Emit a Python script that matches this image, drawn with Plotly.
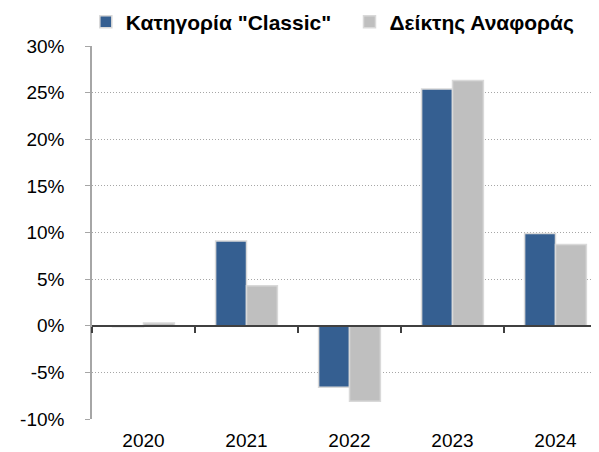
import plotly.graph_objects as go

years = ["2020", "2021", "2022", "2023", "2024"]
classic = [-0.1, 9.1, -6.6, 25.4, 9.9]
benchmark = [0.3, 4.3, -8.1, 26.3, 8.7]
series_names = ['Κατηγορία "Classic"', 'Δείκτης Αναφοράς']
y_ticks = [-10, -5, 0, 5, 10, 15, 20, 25, 30]
y_labels = [f"{v}%" for v in y_ticks]

FONT = "Liberation Sans, Arial, sans-serif"

fig = go.Figure()
fig.add_trace(go.Bar(x=years, y=classic, name=series_names[0], legend="legend",
                     marker=dict(color="#355F91", line=dict(color="#D9D9D9", width=1.5))))
fig.add_trace(go.Bar(x=years, y=benchmark, name=series_names[1], legend="legend2",
                     marker=dict(color="#BFBFBF", line=dict(color="#D9D9D9", width=1.5))))
# invisible helper trace for the zero-line axis with boundary ticks
fig.add_trace(go.Scatter(x=years, y=[0] * len(years), xaxis="x2", yaxis="y",
                         mode="markers", marker=dict(opacity=0), showlegend=False,
                         hoverinfo="skip"))

legend_font = dict(family=FONT, size=21, color="#000000", weight="bold")
fig.update_layout(
    width=599, height=452,
    margin=dict(l=84, r=0, t=38, b=41, autoexpand=False),
    paper_bgcolor="white", plot_bgcolor="white",
    barmode="group", bargap=0.4, bargroupgap=0.0,
    font=dict(family=FONT, size=19, color="#000000"),
    legend=dict(orientation="h", x=-0.012, xanchor="left", y=1.064, yanchor="middle",
                font=legend_font, itemwidth=30, bgcolor="rgba(0,0,0,0)"),
    legend2=dict(orientation="h", x=0.5, xanchor="left", y=1.064, yanchor="middle",
                 font=legend_font, itemwidth=30, bgcolor="rgba(0,0,0,0)"),
    xaxis=dict(type="category", categoryorder="array", categoryarray=years,
               showline=False, ticks="", showgrid=False, zeroline=False,
               ticklabelstandoff=8,
               tickfont=dict(size=19), range=[-0.5, 4.5], automargin=False),
    xaxis2=dict(type="category", categoryorder="array", categoryarray=years,
                overlaying="x", anchor="free", position=0.25, side="bottom",
                showline=True, linecolor="#404040", linewidth=1.5,
                ticks="outside", tickson="boundaries", ticklen=6, tickcolor="#404040",
                tickwidth=1.5, showticklabels=False, showgrid=False, zeroline=False,
                range=[-0.5, 4.5], automargin=False),
    yaxis=dict(range=[-10, 30], tickvals=y_ticks, ticktext=y_labels,
               showline=True, linecolor="#A6A6A6", linewidth=1.5,
               ticks="outside", ticklen=5, tickcolor="#A6A6A6", ticklabelstandoff=17,
               showgrid=True, gridcolor="#A6A6A6", griddash="1px,2px", gridwidth=1,
               zeroline=False, tickfont=dict(size=19), automargin=False),
)

fig.write_html("out.html")
